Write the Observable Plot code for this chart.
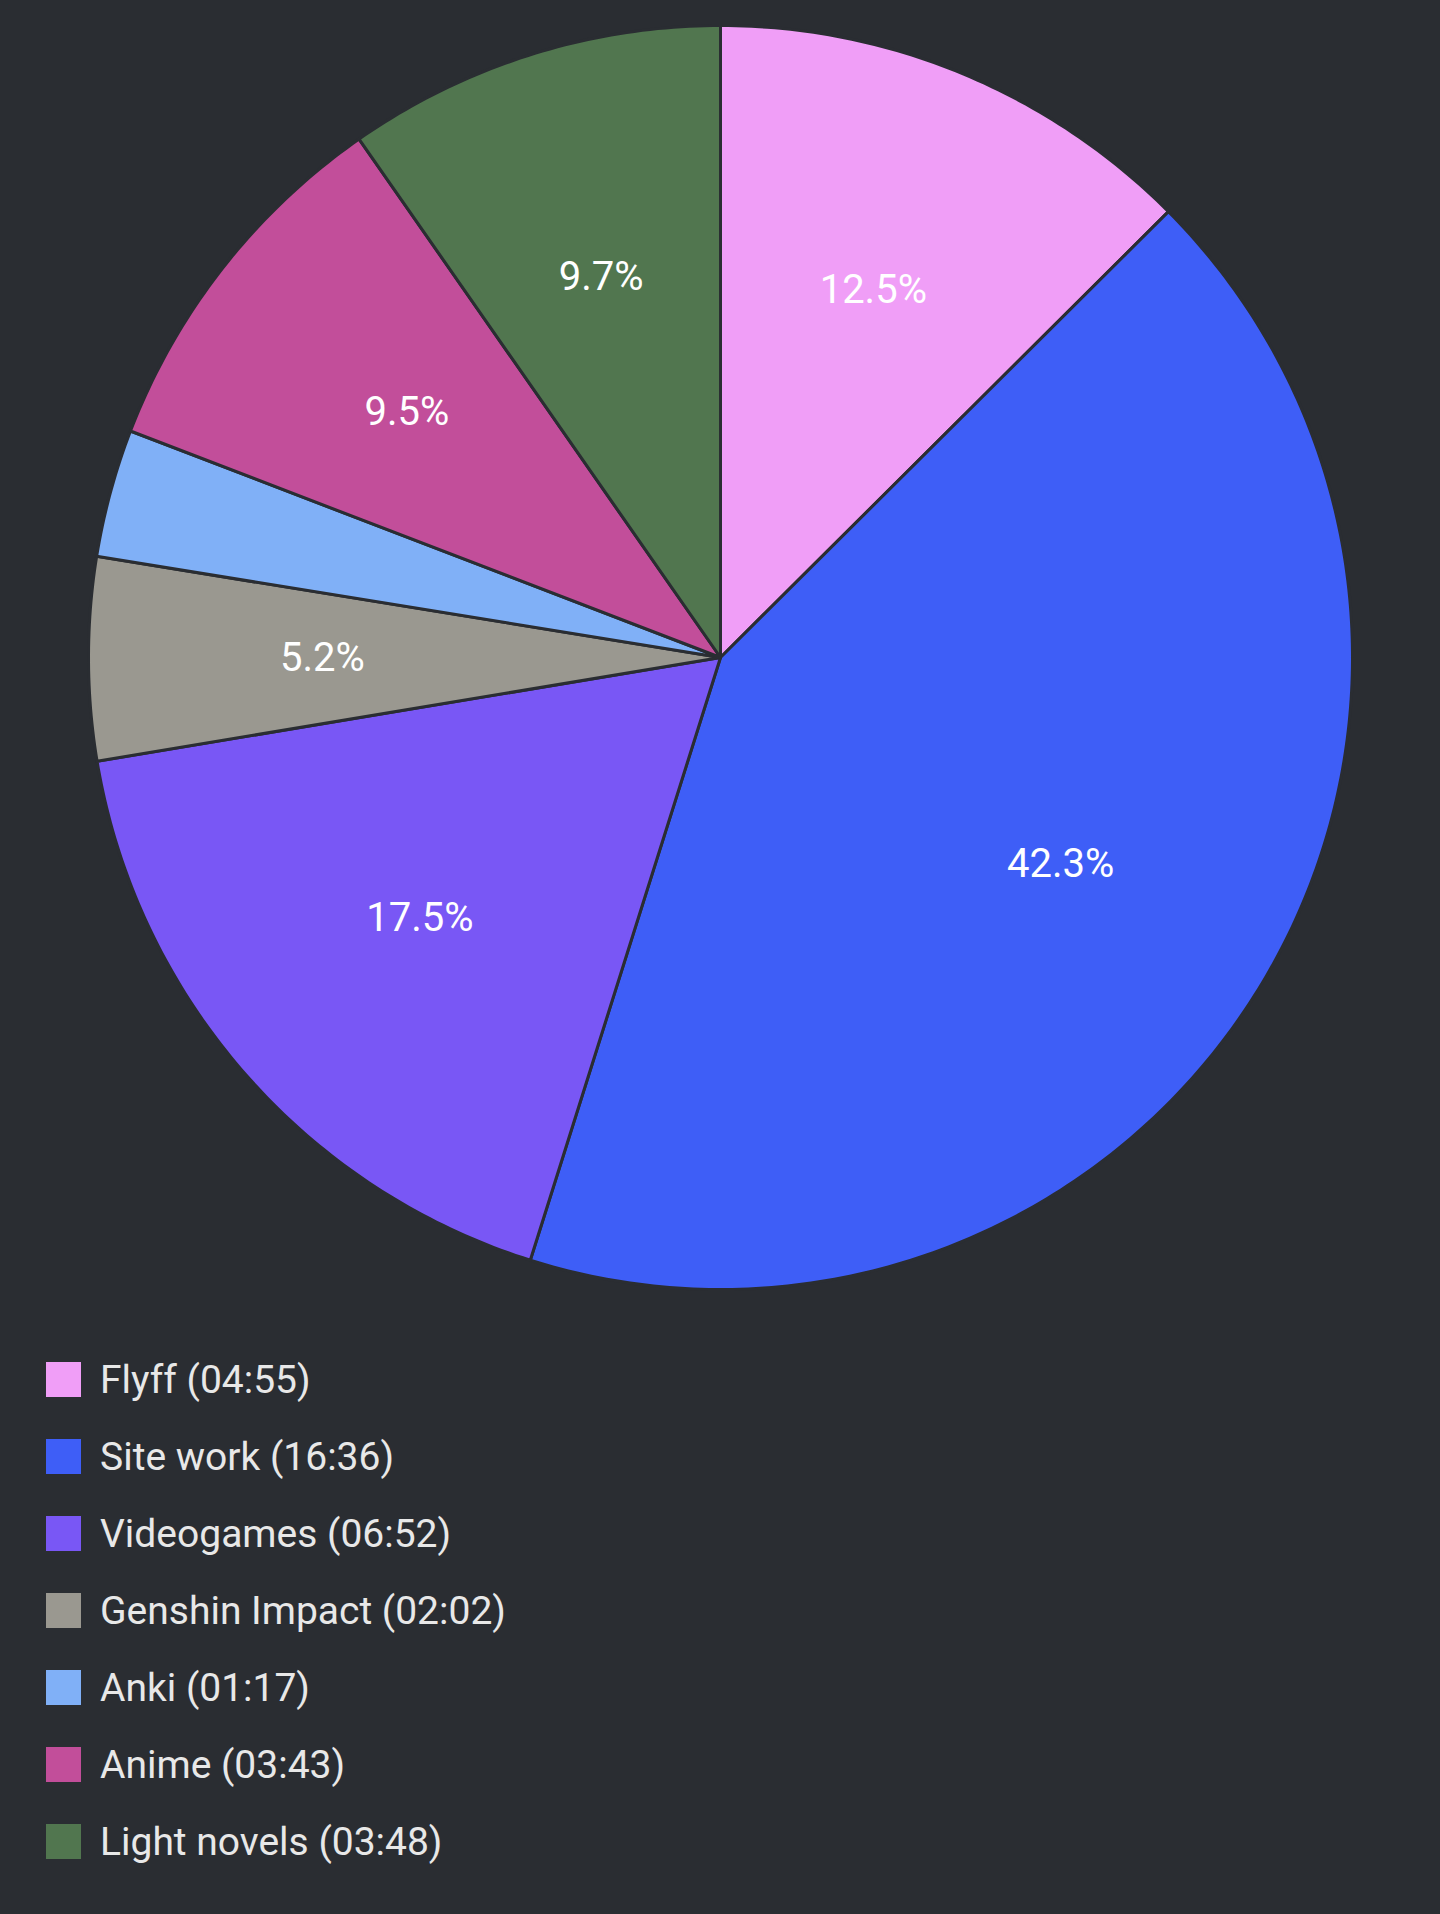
<!DOCTYPE html>
<html><head><meta charset="utf-8">
<script src="https://cdn.jsdelivr.net/npm/d3@7"></script>
<script src="https://cdn.jsdelivr.net/npm/@observablehq/plot@0.6"></script>
<style>
body{margin:0;background:#2a2d32;font-family:Roboto,sans-serif;}
#legend{margin-top:21px;padding-left:46px;}
.row{height:77px;display:flex;align-items:center;color:#e8e8e8;font-size:39px;}
.sw{width:35px;height:35px;margin-right:19px;}
</style></head><body>
<div id="chart"></div>
<div id="legend"></div>
<script>
const categories = ["Flyff","Site work","Videogames","Genshin Impact","Anki","Anime","Light novels"];
const times = ["04:55","16:36","06:52","02:02","01:17","03:43","03:48"];
const colors = ["#f09ef7","#3e5ef7","#7957f5","#9a9890","#80b0f7","#c24e9a","#51764f"];

const minutes = times.map(t => {const [h,m]=t.split(":").map(Number); return h*60+m;});
const total = d3.sum(minutes);
const pts = [], labels = [];
let a0 = 0;
categories.forEach((c,i) => {
  const a1 = a0 + minutes[i]/total*2*Math.PI;
  pts.push({c, x:0, y:0});
  const n = Math.max(4, Math.ceil((a1-a0)*80));
  for (let k=0;k<=n;k++){const a=a0+(a1-a0)*k/n; pts.push({c, x:Math.sin(a), y:Math.cos(a)});}
  pts.push({c, x:0, y:0});
  const pct = minutes[i]/total*100;
  if (pct >= 5) { const am=(a0+a1)/2; labels.push({x:0.63*Math.sin(am), y:0.63*Math.cos(am), t:pct.toFixed(1)+"%"}); }
  a0 = a1;
});

const chart = Plot.plot({
  width:1440, height:1320, margin:0,
  style:{background:"#2a2d32", fontFamily:"Roboto"},
  x:{domain:[-1,1], range:[88,1352], axis:null},
  y:{domain:[-1,1], range:[1289,25], axis:null},
  color:{domain:categories, range:colors},
  marks:[
    Plot.line(pts,{x:"x",y:"y",z:"c",fill:"c",stroke:"#2a2d32",strokeWidth:3,curve:"linear-closed"}),
    Plot.text(labels,{x:"x",y:"y",text:"t",fill:"white",fontSize:40})
  ]
});
document.getElementById("chart").append(chart);
const lg = document.getElementById("legend");
categories.forEach((c,i)=>{
  const r=document.createElement("div");r.className="row";
  r.innerHTML=`<span class="sw" style="background:${colors[i]}"></span>${c} (${times[i]})`;
  lg.append(r);
});
</script></body></html>
